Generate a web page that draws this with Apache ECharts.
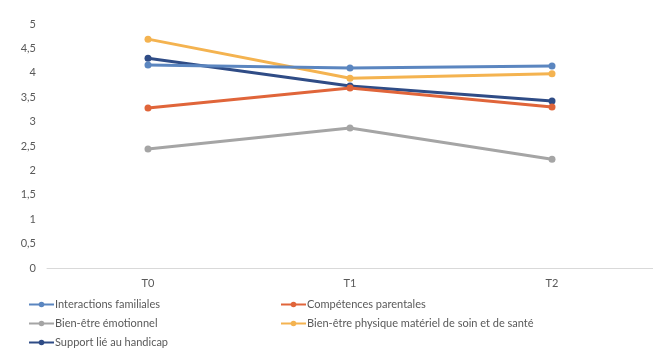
<!DOCTYPE html>
<html>
<head>
<meta charset="utf-8">
<script src="https://cdn.jsdelivr.net/npm/echarts@6/dist/echarts.min.js"></script>
<style>
  html, body { margin: 0; padding: 0; background: #fff; }
  #chart { width: 653px; height: 359px; }
</style>
</head>
<body>
<div id="chart"></div>
<script>
// temps de mesure
const categories = ['T0', 'T1', 'T2']
const yTicks = [0, 0.5, 1, 1.5, 2, 2.5, 3, 3.5, 4, 4.5, 5]
// scores par dimension
const interactions = [4.16, 4.10, 4.14]
const competences = [3.28, 3.69, 3.30]
const emotionnel = [2.44, 2.87, 2.23]
const physique = [4.69, 3.89, 3.98]
const support = [4.30, 3.73, 3.42]

const names = [
  'Interactions familiales',
  'Compétences parentales',
  'Bien-être émotionnel',
  'Bien-être physique matériel de soin et de santé',
  'Support lié au handicap'
]
const colors = ['#5b86c0', '#e0653a', '#a5a5a5', '#f4b350', '#2f4c86']
const values = [interactions, competences, emotionnel, physique, support]

const font = 'Lato, "Open Sans", sans-serif'

function mkSeries (i) {
  return {
    name: names[i],
    type: 'line',
    data: values[i],
    symbol: 'circle',
    symbolSize: 7,
    lineStyle: { width: 3, color: colors[i] },
    itemStyle: { color: colors[i] },
    z: 10 - i
  }
}

const legendBase = {
  orient: 'vertical',
  itemWidth: 25,
  itemHeight: 7,
  itemGap: 8,
  textStyle: { fontFamily: font, fontSize: 11, color: '#595959', padding: [0, 0, 0, -4] }
}

echarts.init(document.getElementById('chart')).setOption({
  animation: false,
  color: colors,
  grid: { left: 47, right: 0, top: 24, bottom: 91 },
  legend: [
    Object.assign({}, legendBase, { left: 23, top: 294, data: [names[0], names[2], names[4]] }),
    Object.assign({}, legendBase, { left: 275, top: 294, data: [names[1], names[3]] })
  ],
  xAxis: {
    type: 'category',
    data: categories,
    boundaryGap: true,
    axisLine: { lineStyle: { color: '#d9d9d9', width: 1 } },
    axisTick: { show: false },
    axisLabel: { fontFamily: font, fontSize: 11, color: '#595959', margin: 10 }
  },
  yAxis: {
    type: 'value',
    min: yTicks[0],
    max: yTicks[yTicks.length - 1],
    interval: 0.5,
    splitLine: { show: false },
    axisLine: { show: false },
    axisTick: { show: false },
    axisLabel: {
      fontFamily: font,
      fontSize: 11,
      color: '#595959',
      margin: 11,
      formatter: v => String(v).replace('.', ',')
    }
  },
  series: [0, 1, 2, 3, 4].map(mkSeries)
})
</script>
</body>
</html>
